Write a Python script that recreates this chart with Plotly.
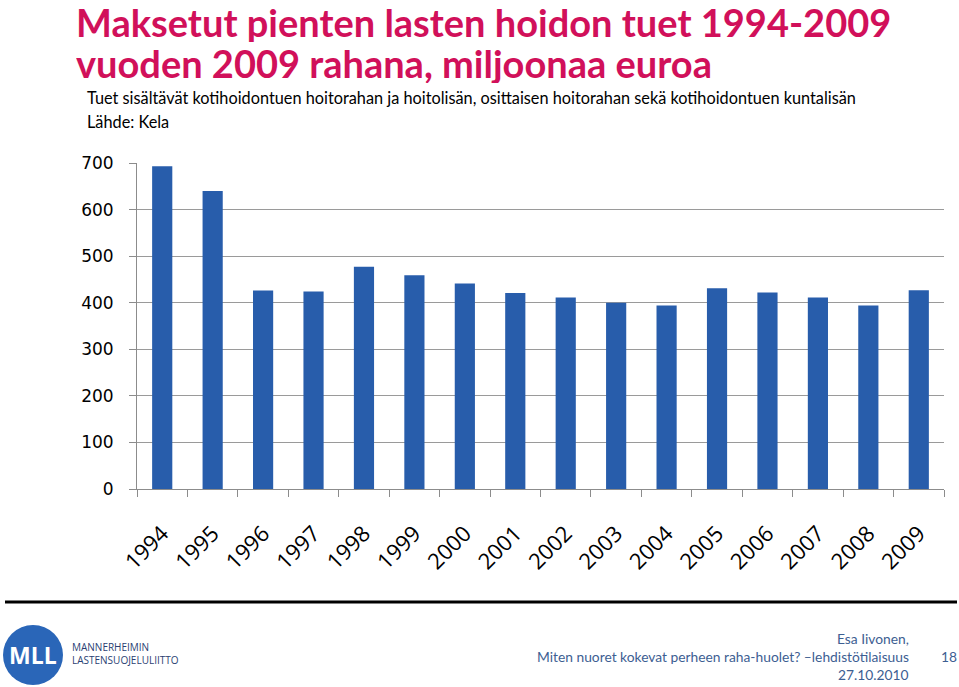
import plotly.graph_objects as go

years = ["1994", "1995", "1996", "1997", "1998", "1999", "2000", "2001",
         "2002", "2003", "2004", "2005", "2006", "2007", "2008", "2009"]
values = [693, 640, 426, 424, 477, 459, 441, 421, 411, 400, 394, 431, 422, 411, 394, 427]
y_ticks = [0, 100, 200, 300, 400, 500, 600, 700]

W, H = 959, 687
L, R, T, B = 137, 944, 163, 489  # plot area in pixels


def px(x):
    return (x - L) / (R - L)


def py(y):
    return (B - y) / (B - T)


fig = go.Figure()
fig.add_trace(go.Bar(x=years, y=values, marker=dict(color="#285DAB", line=dict(width=0)),
                     hoverinfo="x+y"))

TXT = "Lato"
fig.update_layout(
    width=W, height=H,
    margin=dict(l=L, r=W - R, t=T, b=H - B),
    paper_bgcolor="white", plot_bgcolor="white",
    bargap=0.6, showlegend=False,
    xaxis=dict(type="category", range=[-0.5, 15.5], showgrid=False,
               showline=True, linecolor="#8c8c8c", linewidth=1,
               ticks="outside", tickson="boundaries", ticklen=7, tickcolor="#8c8c8c",
               ticklabelstandoff=22,
               tickangle=-45, tickfont=dict(family="Open Sans", size=22, color="black")),
    yaxis=dict(range=[0, 700], tickvals=y_ticks, showgrid=True, gridcolor="#9a9a9a",
               gridwidth=1, zeroline=False, showline=True, linecolor="#8c8c8c",
               ticks="outside", ticklen=7, tickcolor="#8c8c8c", ticklabelstandoff=12,
               tickfont=dict(family="DejaVu Sans", size=17, color="black")),
)

ann = []
ann.append(dict(text="<b>Maksetut pienten lasten hoidon tuet 1994-2009</b>", x=px(74), y=py(22),
                xanchor="left", yanchor="middle", height=40, valign="middle",
                font=dict(family=TXT, size=38, color="#D1105A")))
ann.append(dict(text="<b>vuoden 2009 rahana, miljoonaa euroa</b>", x=px(74), y=py(63),
                xanchor="left", yanchor="middle", height=40, valign="middle",
                font=dict(family=TXT, size=38, color="#D1105A")))
ann.append(dict(text="Tuet sisältävät kotihoidontuen hoitorahan ja hoitolisän, osittaisen hoitorahan sekä kotihoidontuen kuntalisän",
                x=px(85), y=py(109), xanchor="left", yanchor="bottom",
                font=dict(family=TXT, size=16.3, color="black")))
ann.append(dict(text="Lähde: Kela", x=px(85), y=py(133), xanchor="left", yanchor="bottom",
                font=dict(family=TXT, size=16.3, color="black")))
# footer
FC = "#3D5E92"
ann.append(dict(text="Esa Iivonen,", x=px(911), y=py(638), xanchor="right", yanchor="middle",
                font=dict(family=TXT, size=13.8, color=FC)))
ann.append(dict(text="Miten nuoret kokevat perheen raha-huolet? –lehdistötilaisuus", x=px(911), y=py(656),
                xanchor="right", yanchor="middle", font=dict(family=TXT, size=13.8, color=FC)))
ann.append(dict(text="27.10.2010", x=px(911), y=py(674), xanchor="right", yanchor="middle",
                font=dict(family=TXT, size=13.8, color=FC)))
ann.append(dict(text="18", x=px(949), y=py(656), xanchor="center", yanchor="middle",
                font=dict(family=TXT, size=13.8, color=FC)))
ann.append(dict(text="<b>MLL</b>", x=px(33), y=py(655), xanchor="center", yanchor="middle",
                font=dict(family="Open Sans", size=23, color="white")))
ann.append(dict(text="MANNERHEIMIN<br>LASTENSUOJELULIITTO", x=px(70), y=py(653), xanchor="left",
                yanchor="middle", align="left",
                font=dict(family="Open Sans", size=10, color="#2B3F73")))
for a in ann:
    a.update(xref="paper", yref="paper", showarrow=False)
fig.update_layout(annotations=ann)

fig.add_shape(type="line", xref="paper", yref="paper", x0=px(5), x1=px(957), y0=py(602), y1=py(602),
              line=dict(color="black", width=3))
fig.add_shape(type="circle", xref="paper", yref="paper", x0=px(3), x1=px(63), y0=py(685), y1=py(625),
              fillcolor="#2A66B8", line=dict(width=0))

fig.write_html("out.html")
